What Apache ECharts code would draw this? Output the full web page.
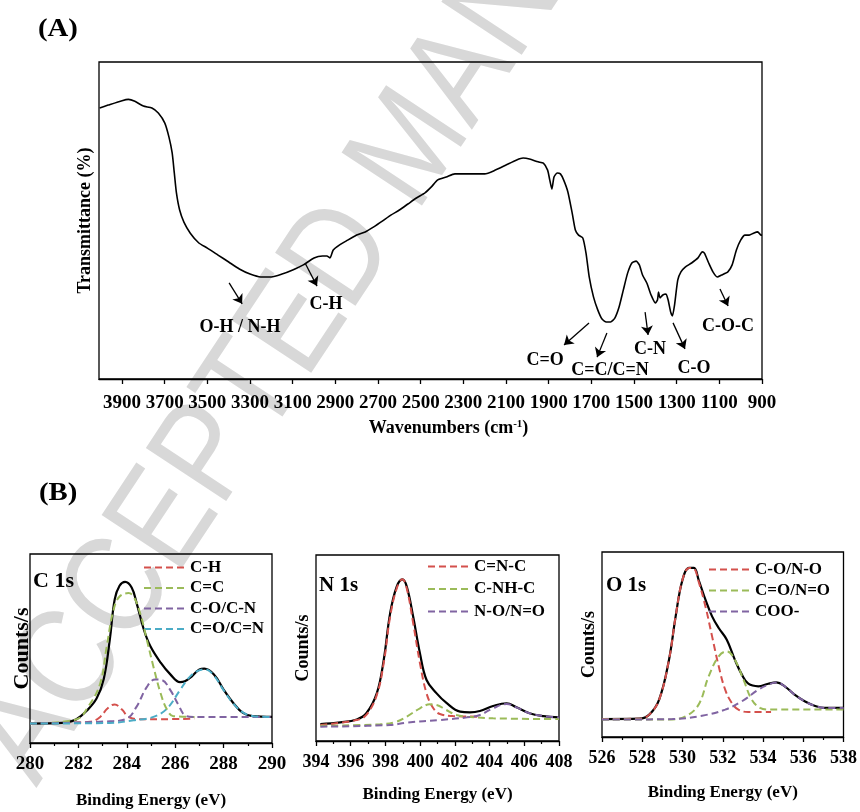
<!DOCTYPE html>
<html>
<head>
<meta charset="utf-8">
<script src="https://cdn.jsdelivr.net/npm/echarts@6/dist/echarts.min.js"></script>
<style>
html, body { margin: 0; padding: 0; background: #fff; }
#main { width: 860px; height: 812px; }
</style>
</head>
<body>
<div id="main"></div>
<script>
// (A) FTIR spectrum
const ftirWavenumber = [4005,3965,3900,3870,3840,3800,3760,3730,3700,3680,
  3665,3655,3645,3630,3610,3580,3540,3500,3450,3400,
  3350,3300,3250,3200,3150,3100,3050,3000,2960,2940,
  2925,2910,2880,2850,2800,2760,2720,2680,2640,2600,
  2560,2520,2480,2450,2420,2380,2340,2300,2250,2200,
  2150,2100,2050,2020,1990,1950,1925,1905,1895,1885,
  1875,1860,1845,1830,1810,1790,1775,1760,1740,1725,
  1710,1690,1670,1650,1630,1610,1590,1570,1550,1530,
  1510,1490,1475,1460,1440,1420,1400,1390,1385,1378,
  1365,1350,1340,1328,1320,1310,1295,1280,1260,1230,
  1200,1180,1170,1150,1130,1110,1090,1060,1040,1020,
  1000,980,960,940,920,905,900]
const ftirTransmittance = [85.5,86.4,87.8,88.2,87.6,86.1,85.5,83.9,80.8,76.3,
  71.3,65,58.7,53.3,49.5,46,42.9,41.3,39.1,36.9,
  34.7,33.1,32.2,32.2,33.1,34.4,36,38.2,38.8,38.8,
  38.2,40.7,42.3,43.5,45.4,46.4,48,49.8,51.7,53.3,
  55.2,57.1,58.7,60.6,62.8,63.7,64.7,64.7,64.7,64.7,
  65.9,67.5,69.1,69.7,69.4,68.5,68.1,65.9,62.8,59.9,
  63.7,65,64.7,62.8,59,52.4,47,45.4,44.5,39.7,
  32.2,25.9,21.8,18.9,18,18,19.2,22.7,28.1,33.4,
  36.6,37.2,36,32.8,30.3,26.5,24,24.9,27.4,25.6,
  26.5,26.8,24.9,21.1,19.9,23.3,31.2,33.8,35.3,36.6,
  38.2,40.1,39.7,36.6,33.8,32.2,32.8,33.8,36,40.7,
  43.8,45.4,45.4,46,46.4,45.4,45.4]
const ftirTicks = [900,1100,1300,1500,1700,1900,2100,2300,2500,2700,2900,3100,3300,3500,3700,3900]

// band assignments: arrow tail, arrow head, label spot (data units)
const ftirBands = [
  { label: 'O-H / N-H', tail: [3398, 30.3], head: [3337, 23.7], at: [3347, 16.4] },
  { label: 'C-H', tail: [3042, 36.6], head: [2986, 29.3], at: [2944, 23.7] },
  { label: 'C=O', tail: [1711, 17.7], head: [1828, 10.7], at: [1917, 6.0] },
  { label: 'C=C/C=N', tail: [1627, 14.5], head: [1673, 6.9], at: [1612, 2.8] },
  { label: 'C-N', tail: [1448, 21.1], head: [1434, 13.9], at: [1425, 9.5] },
  { label: 'C-O', tail: [1317, 17.7], head: [1261, 9.5], at: [1219, 3.5] },
  { label: 'C-O-C', tail: [1097, 28.4], head: [1059, 23], at: [1059, 16.7] }
]

// (B) XPS C 1s  [eV, counts]
const c1sEnvelope = [[280,10.3],[281,10.5],[281.5,10.9],[281.9,12.4],[282.3,16.5],[282.75,23.5],[283.05,34],[283.3,55],[283.5,76],[283.7,83.2],[283.93,85.3],[284.2,82.3],[284.4,74.3],[284.7,60.2],[284.97,51.3],[285.4,42.5],[285.8,36.3],[286.2,32.2],[286.4,32.7],[286.7,35.4],[287.0,38.9],[287.2,39.3],[287.6,36.3],[288,28.3],[288.4,21.2],[288.8,15.9],[289.2,14.2],[290,13.8]]
const c1sCH = [[280,10.3],[282,10.8],[282.5,11.2],[282.9,13.8],[283.2,18.2],[283.5,20.4],[283.8,17.7],[284.07,13.8],[284.5,12.6],[285.4,12.6],[286.8,12.9]]
const c1sCC = [[280,10.3],[281.9,12.4],[282.4,19.1],[282.9,31.5],[283.17,51],[283.45,70.4],[283.7,77.5],[284.07,79.3],[284.28,77.5],[284.55,68.7],[284.83,54.5],[285.1,40.4],[285.4,26.2],[285.66,17.7],[285.93,14.2],[286.8,13.8]]
const c1sCO = [[280,10.3],[283.3,11.5],[284,12.9],[284.4,19.1],[284.83,29.7],[285.17,33.6],[285.45,33.3],[285.8,28],[286.14,20],[286.4,14.7],[286.76,13.8],[290,13.8]]
const c1sCdO = [[280,10.3],[283.3,10.6],[284.28,12],[285.1,13.8],[285.66,18.2],[286.2,28],[286.6,35],[287.03,38.6],[287.24,38.9],[287.59,35.9],[288,28],[288.4,20.9],[288.83,15.9],[289.24,14.2],[290,13.8]]

// N 1s
const n1sEnvelope = [[394.25,9.1],[395.4,10],[396.35,11.6],[396.9,14.9],[397.5,25.6],[397.9,43.5],[398.27,68.6],[398.65,83],[398.98,86.9],[399.23,83],[399.6,66.8],[399.99,47.1],[400.37,32.8],[400.95,25.6],[401.5,20.6],[402.3,15.8],[402.87,15.4],[403.44,16.1],[404.2,18.8],[404.98,20.3],[405.55,18.1],[406.3,14.9],[407.1,13.4],[408,12.7]]
const n1sCNC = [[394.25,8.6],[396.35,11.3],[396.9,14],[397.5,24.7],[397.9,41.8],[398.27,66.8],[398.65,82],[398.98,86.9],[399.23,82],[399.6,63.3],[399.99,41.8],[400.37,25.6],[400.76,17.6],[401.14,14.5],[401.9,13.4],[403.4,13.1]]
const n1sCNHC = [[394.25,8.2],[397.7,9],[398.65,10.4],[399.23,13.1],[399.99,17.6],[400.56,19.7],[400.95,19.4],[401.5,16.7],[402.1,14],[402.7,13.1],[404.2,12.2],[408,11.8]]
const n1sNO = [[394.25,7.7],[398.27,8.6],[399.23,9.9],[401.14,11.3],[402.7,12.7],[403.44,14],[404.2,17.6],[404.98,19.9],[405.55,18.1],[406.3,14.9],[407.1,13.4],[408,12.7]]

// O 1s
const o1sEnvelope = [[526,9.7],[527.86,9.9],[528.35,12.1],[528.84,20.2],[529.33,41.8],[529.66,65.2],[530,85],[530.33,91.4],[530.57,91.4],[530.8,85],[531.14,74.2],[531.47,65.2],[531.8,58.9],[532.2,52.6],[532.6,41.8],[532.95,33.7],[533.27,28.8],[533.77,27.4],[534.26,28.8],[534.67,29.5],[535.08,27.4],[535.57,22.9],[536.07,19.3],[536.56,16.9],[537.05,15.7],[538,15.7]]
const o1sCO = [[526,9.7],[527.86,9.9],[528.35,12.1],[528.84,20.2],[529.33,41.8],[529.66,65.2],[530,85],[530.33,91.4],[530.57,91],[530.8,84.1],[531.14,70.6],[531.47,54.4],[531.8,38.2],[532.12,25.6],[532.45,18.4],[532.78,14.8],[533.27,13.5],[534.4,13.5]]
const o1sCdO = [[526,9.4],[529.33,9.4],[530.15,11.2],[530.8,17.5],[531.3,32.8],[531.8,43.6],[532.2,46.3],[532.6,41.8],[533.03,31],[533.44,20.2],[533.85,15.7],[534.26,14.8],[538,14.8]]
const o1sCOO = [[526,9.4],[529.5,9.7],[530.97,11.5],[532.12,14.8],[532.95,19.3],[533.77,25.6],[534.26,28.3],[534.67,29.5],[535.08,27.4],[535.57,22.9],[536.07,19.3],[536.56,16.9],[537.05,15.7],[538,15.7]]

const RED = '#d4504c', GREEN = '#9bbb59', PURPLE = '#8064a2', CYAN = '#4bacc6'
const SERIF = 'Liberation Serif, Times New Roman, serif'

var myChart = echarts.init(document.getElementById('main'))

function boldText(size) {
  return { color: '#000', fontFamily: SERIF, fontWeight: 'bold', fontSize: size }
}

function xpsX(idx, min, max, labelSize, nameGap) {
  return {
    type: 'value', gridIndex: idx, min: min, max: max, interval: 2,
    name: 'Binding Energy (eV)', nameLocation: 'middle', nameGap: nameGap,
    nameTextStyle: boldText(17),
    axisLine: { lineStyle: { color: '#000', width: 1.3 } },
    axisTick: { length: 5, lineStyle: { color: '#000', width: 1.3 } },
    minorTick: { show: true, splitNumber: 2, length: 3, lineStyle: { color: '#000', width: 1.2 } },
    axisLabel: Object.assign({ margin: 12 }, boldText(labelSize)),
    splitLine: { show: false }
  }
}

function xpsY(idx, nameSize, nameGap) {
  return {
    type: 'value', gridIndex: idx, min: 0, max: 100,
    name: 'Counts/s', nameLocation: 'middle', nameRotate: 90, nameGap: nameGap,
    nameTextStyle: boldText(nameSize),
    axisLine: { show: false }, axisTick: { show: false }, axisLabel: { show: false },
    splitLine: { show: false }
  }
}

function envelope(name, idx, data) {
  return {
    name: name, type: 'line', xAxisIndex: idx, yAxisIndex: idx, data: data,
    symbol: 'none', smooth: 0.4, z: 3,
    lineStyle: { color: '#000', width: 2.2 }, itemStyle: { color: '#000' }
  }
}

function component(name, idx, data, color) {
  return {
    name: name, type: 'line', xAxisIndex: idx, yAxisIndex: idx, data: data,
    symbol: 'none', smooth: 0.4, z: 4,
    lineStyle: { color: color, width: 2, type: [7, 4] }, itemStyle: { color: color }
  }
}

function legendAt(left, top, gap, names) {
  return {
    orient: 'vertical', left: left, top: top, itemGap: gap,
    itemWidth: 44, itemHeight: 12, padding: 0, selectedMode: false,
    itemStyle: { opacity: 0 },
    textStyle: Object.assign({ padding: [0, 0, 0, -3] }, boldText(17)),
    data: names
  }
}

const option = {
  animation: false,
  backgroundColor: '#fff',
  grid: [
    { left: 99, top: 62, width: 663, height: 317, show: true, borderColor: '#000', borderWidth: 1.3 },
    { left: 30, top: 554, width: 242, height: 189, show: true, borderColor: '#000', borderWidth: 1.3 },
    { left: 316, top: 555, width: 243, height: 186, show: true, borderColor: '#000', borderWidth: 1.3 },
    { left: 602, top: 552, width: 244, height: 185, show: true, borderColor: '#000', borderWidth: 1.3 }
  ],
  xAxis: [
    {
      type: 'value', gridIndex: 0, min: 900, max: 4008, inverse: true,
      name: 'Wavenumbers (cm{sup|-1})', nameLocation: 'middle', nameGap: 40,
      nameTextStyle: Object.assign({ padding: [0, 0, 0, 36],
        rich: { sup: Object.assign({ verticalAlign: 'top', padding: [0, 0, 6, 0] }, boldText(11)) } }, boldText(18)),
      axisLine: { lineStyle: { color: '#000', width: 1.3 } },
      axisTick: { length: 5, customValues: ftirTicks, lineStyle: { color: '#000', width: 1.3 } },
      axisLabel: Object.assign({ margin: 15, customValues: ftirTicks, formatter: v => String(v) }, boldText(19)),
      splitLine: { show: false }
    },
    xpsX(1, 280, 290, 19, 49),
    xpsX(2, 394, 408, 18, 45),
    xpsX(3, 526, 538, 18, 47)
  ],
  yAxis: [
    {
      type: 'value', gridIndex: 0, min: 0, max: 100,
      name: 'Transmittance (%)', nameLocation: 'middle', nameRotate: 90, nameGap: 5,
      nameTextStyle: boldText(18),
      axisLine: { show: false }, axisTick: { show: false }, axisLabel: { show: false },
      splitLine: { show: false }
    },
    xpsY(1, 22, -3),
    xpsY(2, 18, 4),
    xpsY(3, 18, 4)
  ],
  legend: [
    legendAt(143, 559, 3.5, ['C-H', 'C=C', 'C-O/C-N', 'C=O/C=N']),
    legendAt(427, 558, 5.5, ['C=N-C', 'C-NH-C', 'N-O/N=O']),
    legendAt(708, 561, 4, ['C-O/N-O', 'C=O/N=O', 'COO-'])
  ],
  graphic: [
    {
      type: 'text', x: 4, y: 767, rotation: 56.5 * Math.PI / 180, scaleX: 0.86, z: -10, silent: true,
      style: { text: 'ACCEPTED MANUSCRIPT', fill: '#d8d8d8', fontSize: 140,
        fontFamily: 'Liberation Sans, Arial, sans-serif', textAlign: 'left', textVerticalAlign: 'middle' }
    },
    { type: 'text', x: 38, y: 30, scaleX: 1.15, style: { text: '(A)', fill: '#000', textVerticalAlign: 'middle',
        font: 'bold 25px ' + SERIF } },
    { type: 'text', x: 39, y: 494, scaleX: 1.15, style: { text: '(B)', fill: '#000', textVerticalAlign: 'middle',
        font: 'bold 25px ' + SERIF } },
    { type: 'text', x: 33, y: 581, style: { text: 'C 1s', fill: '#000', textVerticalAlign: 'middle',
        font: 'bold 22px ' + SERIF } },
    { type: 'text', x: 319, y: 586, style: { text: 'N 1s', fill: '#000', textVerticalAlign: 'middle',
        font: 'bold 21px ' + SERIF } },
    { type: 'text', x: 606, y: 586, style: { text: 'O 1s', fill: '#000', textVerticalAlign: 'middle',
        font: 'bold 21px ' + SERIF } }
  ],
  series: [
    {
      name: 'FTIR', type: 'line', xAxisIndex: 0, yAxisIndex: 0,
      data: ftirWavenumber.map((w, i) => [w, ftirTransmittance[i]]),
      symbol: 'none', smooth: 0.2,
      lineStyle: { color: '#000', width: 1.6 },
      markLine: {
        silent: true, symbol: ['none', 'arrow'], symbolSize: 9,
        label: { show: false },
        lineStyle: { color: '#000', width: 1.3, type: 'solid' },
        data: ftirBands.map(b => [{ coord: b.tail }, { coord: b.head }])
      },
      markPoint: {
        silent: true, symbol: 'rect', symbolSize: 1, itemStyle: { color: 'rgba(0,0,0,0)' },
        label: Object.assign({ show: true, position: 'inside', formatter: '{b}' }, boldText(18)),
        data: ftirBands.map(b => ({ name: b.label, coord: b.at }))
      }
    },
    envelope('C 1s', 1, c1sEnvelope),
    component('C-H', 1, c1sCH, RED),
    component('C=C', 1, c1sCC, GREEN),
    component('C-O/C-N', 1, c1sCO, PURPLE),
    component('C=O/C=N', 1, c1sCdO, CYAN),
    envelope('N 1s', 2, n1sEnvelope),
    component('C=N-C', 2, n1sCNC, RED),
    component('C-NH-C', 2, n1sCNHC, GREEN),
    component('N-O/N=O', 2, n1sNO, PURPLE),
    envelope('O 1s', 3, o1sEnvelope),
    component('C-O/N-O', 3, o1sCO, RED),
    component('C=O/N=O', 3, o1sCdO, GREEN),
    component('COO-', 3, o1sCOO, PURPLE)
  ]
}

myChart.setOption(option)
</script>
</body>
</html>
